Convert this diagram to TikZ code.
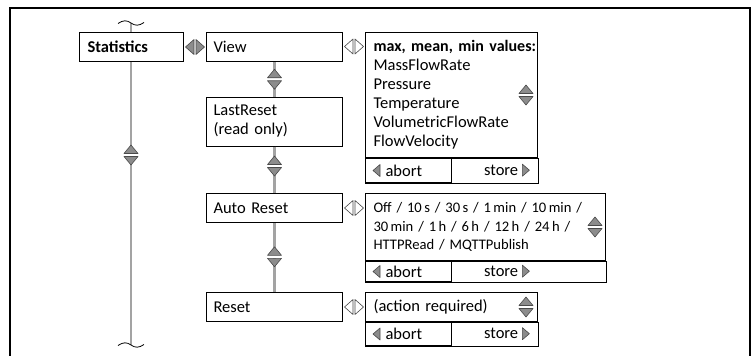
\documentclass[tikz,border=0pt]{standalone}
\usepackage{fontspec}
\setmainfont{Carlito}
\usetikzlibrary{calc}
\definecolor{linkgray}{HTML}{A3A3A3}
\definecolor{trigray}{HTML}{8C8C8C}
\definecolor{tridark}{HTML}{4A4A4A}
\newcommand\valhead[1]{\mbox{\fontsize{16}{19}\bfseries #1}}
\begin{document}
\begin{tikzpicture}[
x=1pt,y=-1pt,
font=\fontsize{16.5}{19}\selectfont,
box/.style={%
draw,
fill=white,
line width=1pt,
anchor=north west,
minimum height=29pt,
inner xsep=7pt,
text width=122pt,
align=left
},
valbox/.style={%
draw,
fill=white,
line width=1pt,
anchor=north west,
inner xsep=8pt,
align=left
},
cell/.style={%
anchor=north west,
inner xsep=20pt,
text width=46pt
},
link/.style={%
draw=linkgray,
line width=2.2pt
},
tri/.style={%
draw=tridark,
line width=.6pt,
line join=round
},
updown/.pic={
\fill[white](-7,-1.5)rectangle(7,1.5);
\path[tri,fill=trigray](-7,-1.5)--(7,-1.5)--(0,-10)--cycle;
\path[tri,fill=trigray](-7,1.5)--(7,1.5)--(0,10)--cycle;
},
leftright/.pic={
\path[tri,fill=#1](-1,-7.5)--(-1,7.5)--(-9.5,0)--cycle;
\path[tri,fill=#1](1,-7.5)--(1,7.5)--(9.5,0)--cycle;
},
lefttri/.pic={
\path[tri,fill=trigray](3.5,-6)--(3.5,6)--(-3.5,0)--cycle;
},
righttri/.pic={
\path[tri,fill=trigray](-3.5,-6)--(-3.5,6)--(3.5,0)--cycle;
},
wave/.pic={
\draw[line width=.8pt](-13,.5)..controls(-8,-3)and(-4,-3)..(0,0)..controls(4,3)and(8,3)..(13,-.5);
}
]
\useasboundingbox(0,0)rectangle(756,356);
%% frame
\draw[line width=1.1pt](10,356)--(10,8)--(750,8)--(750,356);
%% main line
\coordinate(topend)at(131,23);
\coordinate(botend)at(131,345);
\draw[link](topend)--(botend);
\pic at(topend){wave};
\pic at(botend){wave};
\pic at(131,155){updown};
%% menu
\node[box,text width=88pt,inner xsep=8pt]at(79,32)(stat){\bfseries Statistics};
\node[box]at(206,32)(view){View};
\node[box,yshift=-1.5pt,minimum height=49pt]at(206,95)(lastreset){LastReset\\(read only)};
\node[box]at(206,193)(autoreset){Auto Reset};
\node[box]at(206,292)(reset){Reset};
\path[link](view)--(lastreset);
\path[link](lastreset)--(autoreset);
\path[link](autoreset)--(reset);
\pic at($(view.south)!.5!(lastreset.north)$){updown};
\pic at($(lastreset.south)!.42!(autoreset.north)$){updown};
\pic at($(autoreset.south)!.49!(reset.north)$){updown};
\pic at($(stat.east)!.5!(view.west)$){leftright=trigray};
%% values
\node[valbox,text width=156pt,minimum height=125pt]at(365,32)(vals){\valhead{max, mean, min values:}\\MassFlowRate\\Pressure\\Temperature\\VolumetricFlowRate\\FlowVelocity};
\node[cell,draw,line width=1pt,minimum height=24pt,align=left]at(vals.south west)(abort1){abort};
\node[cell,minimum height=24pt,align=right]at(abort1.north east)(store1){store};
\draw[line width=1pt](abort1.north west)rectangle(vals.east|-abort1.south);
\node[valbox,text width=224pt,minimum height=67pt,font=\fontsize{14.6}{18.5}\selectfont]at(365,193)(autovals){Off / 10\,s / 30\,s / 1\,min / 10\,min /\\30\,min / 1\,h / 6\,h / 12\,h / 24\,h /\\HTTPRead / MQTTPublish};
\node[cell,draw,line width=1pt,minimum height=20pt,align=left]at(autovals.south west)(abort2){abort};
\node[cell,minimum height=20pt,align=right]at(abort2.north east)(store2){store};
\draw[line width=1pt](abort2.north west)rectangle(autovals.east|-abort2.south);
\node[valbox,text width=156pt,minimum height=29pt]at(365,292)(resetvals){(action required)};
\node[cell,draw,line width=1pt,minimum height=23pt,align=left]at(resetvals.south west)(abort3){abort};
\node[cell,minimum height=23pt,align=right]at(abort3.north east)(store3){store};
\draw[line width=1pt](abort3.north west)rectangle(resetvals.east|-abort3.south);
%% markers
\pic at($(view.north east)!.5!(vals.north west)+(0,14.5)$){leftright=white};
\pic at($(autoreset.east)!.5!(autovals.west|-autoreset.east)$){leftright=white};
\pic at($(reset.east)!.5!(resetvals.west)$){leftright=white};
\pic at([xshift=-12pt]vals.east){updown};
\pic at([xshift=-11pt]autovals.east){updown};
\pic at([xshift=-12pt]resetvals.east){updown};
\foreach \c in {abort1,abort2,abort3}{\pic at([xshift=11.5pt]\c.west){lefttri};}
\foreach \c in {store1,store2,store3}{\pic at([xshift=-12.5pt]\c.east){righttri};}
\end{tikzpicture}
\end{document}
